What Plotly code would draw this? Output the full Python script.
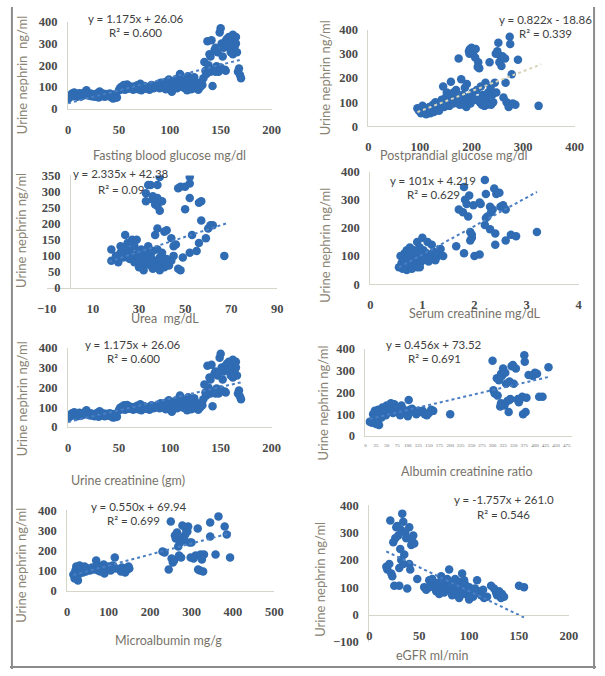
import plotly.graph_objects as go

W, H = 605, 676

# ---------------- data ----------------
# Panel 1 & 5: Fasting blood glucose / Urine creatinine vs urine nephrin
fbg_x = [0, 0, 1, 2, 3, 4, 5, 6, 7, 8, 9, 10, 11, 12, 13, 14, 15, 16, 17, 18, 19, 20, 21, 22, 23, 24, 25, 26, 27, 28,
         29, 30, 31, 32, 33, 34, 35, 36, 37, 38, 39, 40, 41, 42, 43, 44, 45, 46, 47, 48,
         50, 51, 52, 53, 54, 55, 56, 57, 58, 59, 60, 62, 63, 64, 65, 66, 68, 69, 70, 71, 72, 74, 75, 76, 78, 80,
         82, 84, 85, 86, 88, 90, 91, 92, 94, 95, 96, 97, 98, 99, 100, 101, 102, 103, 104, 105, 106, 107, 108,
         109, 110, 111, 112, 113, 114, 115, 116, 117, 118, 119, 120, 121, 122, 123, 124, 125, 126, 127, 128, 129,
         130, 131, 132, 133,
         134, 135, 136, 137, 138, 139, 140, 141, 142, 143, 144, 145, 146, 147, 148, 149, 150, 151, 152, 153, 154,
         155, 156, 157, 158, 159, 160, 161, 162, 163, 164, 165, 166, 167, 168, 169, 170, 155, 160, 150, 145, 140,
         165, 162, 158]
fbg_y = [50, 45, 60, 55, 65, 70, 58, 75, 62, 68, 55, 60, 72, 65, 58, 70, 62, 75, 68, 85, 72, 65, 60, 70, 58, 66, 62,
         55, 68, 60, 72, 52, 80, 65, 58, 70, 62, 55, 68, 60, 64, 58, 70, 55, 62, 48, 66, 50, 60, 52,
         85, 95, 100, 90, 105, 110, 88, 98, 112, 92, 105, 95, 100, 88, 102, 95, 108, 90, 100, 115, 85, 98, 105,
         92, 100, 88, 110, 95, 105, 100, 112, 95, 120, 105, 100, 118, 90, 125, 105, 135, 95, 110, 78, 122, 100,
         130, 115, 95, 140, 105, 160, 120, 100, 130, 110, 95, 125, 85, 150, 105, 115, 90, 130, 100, 145, 95, 110,
         120, 88, 105, 100, 120, 110, 140,
         215, 175, 160, 310, 200, 250, 170, 315, 105, 180, 270, 280, 195, 260, 170, 350, 370, 300, 240, 280, 180,
         310, 320, 290, 330, 300, 270, 310, 340, 320, 290, 330, 260, 170, 185, 155, 140, 175, 260, 190, 170, 240,
         300, 250, 290]

# Panel 2: Postprandial glucose
ppg_x = [95, 98, 100, 102, 105, 107, 110, 112, 115, 118, 120, 122, 125, 127, 130, 132, 135, 137, 140, 142, 145,
         147, 150, 152, 155, 157, 160, 162, 165, 167, 170, 172, 175, 177, 180, 182, 185, 187, 190, 191, 193, 195,
         196, 197, 198, 200, 202, 203, 205, 207, 208, 210, 212, 213, 215, 216, 218, 220, 222, 225, 227, 228, 230,
         232, 235, 237, 238, 240, 242, 245, 247, 248, 250, 252, 254, 256, 258, 260, 262, 265, 266, 268, 270, 272,
         274, 275, 278, 280, 285, 290, 330, 230, 210, 190, 150, 165, 175, 200, 220, 185]
ppg_y = [75, 65, 70, 55, 85, 60, 75, 50, 65, 80, 55, 70, 90, 60, 100, 75, 85, 65, 95, 110, 165, 80, 120, 140, 100,
         85, 185, 130, 95, 110, 150, 120, 280, 90, 195, 130, 105, 160, 80, 175, 120, 310, 300, 320, 95, 325, 140,
         305, 110, 285, 320, 150, 245, 265, 240, 100, 165, 90, 130, 85, 180, 120, 100, 140, 265, 160, 90, 130, 100,
         180, 300, 140, 310, 345, 265, 290, 250, 290, 120, 280, 180, 100, 95, 80, 370, 340, 215, 95, 90, 275, 85,
         90, 110, 100, 90, 140, 110, 130, 115, 90]

# Panel 3: Urea
urea_x = [18, 18, 20, 21, 22, 22, 23, 24, 24, 25, 25, 26, 26, 27, 27, 28, 28, 29, 29, 30, 30, 31, 31, 32, 32, 33,
          33, 34, 34, 35, 35, 36, 36, 37, 37, 38, 38, 38, 39, 39, 40, 40, 41, 41, 42, 42, 43, 44, 44, 45, 45, 46,
          47, 48, 49, 50, 52, 53, 55, 56, 57, 57, 59, 60, 61, 62, 67, 33, 33, 34, 35, 36, 36, 37, 37, 38, 38, 38,
          39, 39, 40, 47, 48, 50, 52, 52, 52, 56, 40, 35, 30, 25]
urea_y = [120, 85, 100, 80, 110, 130, 95, 165, 125, 105, 140, 90, 115, 150, 100, 130, 80, 105, 150, 95, 65, 120,
          85, 100, 55, 110, 75, 90, 130, 70, 100, 60, 115, 85, 165, 70, 120, 185, 95, 55, 80, 110, 65, 175, 90,
          180, 70, 85, 155, 100, 130, 135, 60, 55, 95, 245, 110, 165, 115, 140, 210, 270, 155, 185, 195, 195, 100,
          295, 270, 320, 320, 285, 275, 265, 260, 255, 280, 320, 240, 345, 270, 310, 315, 315, 325, 345, 280, 265,
          90, 95, 110, 95]

# Panel 4: Serum creatinine
scr_x = [0.55, 0.58, 0.6, 0.62, 0.65, 0.66, 0.68, 0.7, 0.7, 0.72, 0.74, 0.75, 0.76, 0.78, 0.8, 0.8, 0.82, 0.84,
         0.85, 0.86, 0.88, 0.9, 0.9, 0.92, 0.94, 0.95, 0.96, 0.98, 1.0, 1.0, 1.02, 1.05, 1.08, 1.1, 1.12, 1.15,
         1.18, 1.2, 1.22, 1.25, 1.3, 1.35, 1.4, 0.65, 0.75, 0.85, 0.95, 0.7, 0.8, 1.65, 1.7, 1.78, 1.8, 1.8, 1.82,
         1.85, 1.88, 1.9, 1.92, 1.92, 1.95, 1.98, 2.0, 2.1, 2.1, 2.12, 2.2, 2.2, 2.22, 2.22, 2.3, 2.3, 2.32, 2.35,
         2.38, 2.4, 2.4, 2.42, 2.48, 2.5, 2.55, 2.6, 2.6, 2.7, 2.8, 3.2, 1.95, 2.25]
scr_y = [60, 100, 75, 55, 90, 110, 70, 120, 50, 85, 100, 65, 130, 80, 110, 55, 95, 120, 70, 100, 85, 150, 60, 110,
         90, 130, 75, 105, 165, 85, 120, 95, 110, 150, 80, 100, 140, 90, 115, 85, 100, 125, 100, 100, 110, 115, 60,
         95, 75, 135, 265, 255, 345, 110, 300, 285, 240, 315, 185, 155, 165, 280, 100, 105, 290, 285, 370, 210, 320,
         235, 195, 275, 255, 265, 340, 180, 140, 320, 325, 275, 280, 265, 155, 175, 170, 185, 175, 240]

# Panel 6: Albumin creatinine ratio
acr_x = [10, 15, 18, 20, 22, 25, 26, 28, 30, 30, 32, 35, 38, 40, 42, 45, 48, 50, 55, 58, 60, 65, 68, 70, 75, 80,
         82, 85, 90, 95, 100, 102, 105, 110, 115, 120, 125, 130, 135, 140, 145, 150, 155, 160, 200, 300, 302, 305,
         310, 312, 315, 318, 320, 322, 325, 328, 330, 332, 335, 338, 340, 342, 345, 348, 350, 355, 360, 362, 365,
         370, 372, 375, 376, 378, 380, 385, 395, 400, 405, 410, 418, 432, 340, 320, 360]
acr_y = [65, 60, 100, 80, 115, 55, 95, 110, 70, 120, 50, 100, 85, 130, 120, 110, 95, 140, 115, 130, 150, 105, 145,
         125, 130, 105, 95, 140, 120, 115, 90, 165, 120, 125, 110, 100, 115, 110, 115, 100, 95, 105, 120, 115, 100,
         345, 210, 195, 265, 185, 255, 135, 285, 275, 310, 140, 290, 240, 160, 110, 250, 170, 320, 325, 240, 310,
         165, 155, 170, 180, 100, 370, 340, 110, 175, 280, 275, 290, 285, 180, 180, 315, 165, 150, 170]

# Panel 7: Microalbumin
mau_x = [15, 18, 20, 22, 24, 25, 26, 28, 30, 30, 32, 35, 38, 40, 42, 45, 50, 55, 60, 65, 70, 72, 75, 78, 80, 85,
         88, 90, 95, 100, 105, 110, 115, 118, 130, 132, 135, 138, 140, 145, 148, 150, 230, 235, 245, 250, 252, 255,
         258, 260, 262, 265, 268, 270, 272, 275, 278, 280, 282, 285, 288, 290, 292, 295, 298, 300, 305, 310, 315,
         316, 320, 322, 325, 328, 330, 345, 345, 358, 365, 380, 385, 393, 285, 275]
mau_y = [80, 60, 100, 120, 70, 95, 50, 110, 85, 125, 100, 115, 90, 105, 120, 95, 110, 100, 115, 105, 150, 125, 100,
         120, 95, 110, 130, 85, 115, 120, 100, 125, 165, 110, 95, 115, 100, 110, 90, 105, 120, 110, 195, 190, 105,
         345, 160, 140, 150, 275, 260, 290, 220, 175, 240, 255, 325, 265, 250, 280, 300, 295, 320, 240, 165, 240,
         160, 175, 310, 105, 100, 180, 155, 95, 180, 340, 270, 180, 370, 320, 280, 165, 315, 165]

# Panel 8: eGFR
egfr_x = [17, 18, 20, 21, 22, 23, 24, 25, 26, 27, 28, 29, 30, 30, 31, 32, 32, 33, 34, 34, 35, 36, 37, 38, 40, 40,
          41, 42, 43, 44, 45, 48, 55, 57, 60, 62, 63, 65, 67, 68, 70, 72, 73, 75, 76, 78, 80, 80, 82, 83, 85, 86,
          88, 90, 90, 92, 93, 95, 96, 98, 100, 100, 102, 104, 106, 108, 110, 112, 114, 115, 118, 122, 125, 127,
          128, 130, 132, 133, 135, 150, 155, 60, 70, 78, 85, 95, 88]
egfr_y = [175, 165, 185, 345, 150, 140, 265, 105, 280, 320, 325, 290, 170, 105, 240, 310, 200, 370, 340, 185, 220,
          300, 280, 95, 320, 185, 165, 255, 270, 290, 260, 130, 100, 90, 125, 110, 130, 100, 85, 115, 95, 140, 110,
          80, 125, 100, 165, 90, 115, 70, 105, 130, 85, 120, 60, 95, 150, 75, 110, 90, 100, 55, 80, 65, 95, 125,
          85, 70, 90, 60, 65, 105, 95, 80, 70, 85, 60, 75, 65, 105, 100, 100, 75, 130, 80, 125, 110]

# trendlines (slope, intercept, x-extent) and labels
panels = [
    dict(x=fbg_x, y=fbg_y, m=1.175, b=26.06, tx=[0, 170], eq="y = 1.175x + 26.06", r2="R² = 0.600",
         xtitle="Fasting blood glucose mg/dl", ytitle="Urine nephrin  ng/ml"),
    dict(x=ppg_x, y=ppg_y, m=0.822, b=-18.86, tx=[95, 335], eq="y = 0.822x - 18.86", r2="R² = 0.339",
         xtitle="Postprandial glucose mg/dl", ytitle="Urine nephrin ng/ml"),
    dict(x=urea_x, y=urea_y, m=2.335, b=42.38, tx=[17, 68], eq="y = 2.335x + 42.38", r2="R² = 0.09",
         xtitle="Urea  mg/dL", ytitle="Urine nephrin ng/ml"),
    dict(x=scr_x, y=scr_y, m=101, b=4.219, tx=[0.55, 3.2], eq="y = 101x + 4.219", r2="R² = 0.629",
         xtitle="Serum creatinine mg/dL", ytitle="Urine nephrin ng/ml"),
    dict(x=fbg_x, y=fbg_y, m=1.175, b=26.06, tx=[0, 170], eq="y = 1.175x + 26.06", r2="R² = 0.600",
         xtitle="Urine creatinine (gm)", ytitle="Urine nephrin ng/ml"),
    dict(x=acr_x, y=acr_y, m=0.456, b=73.52, tx=[10, 432], eq="y = 0.456x + 73.52", r2="R² = 0.691",
         xtitle="Albumin creatinine ratio", ytitle="Urine nephrin ng/ml"),
    dict(x=mau_x, y=mau_y, m=0.550, b=69.94, tx=[15, 395], eq="y = 0.550x + 69.94", r2="R² = 0.699",
         xtitle="Microalbumin mg/g", ytitle="Urine nephrin ng/ml"),
    dict(x=egfr_x, y=egfr_y, m=-1.757, b=261.0, tx=[17, 155], eq="y = -1.757x + 261.0", r2="R² = 0.546",
         xtitle="eGFR ml/min", ytitle="Urine nephrin ng/ml"),
]

# ---------------- layout geometry (pixels) ----------------
geom = [
    dict(xr=[0, 200], xpx=[60, 270], yr=[0, 400], ypx=[104, 15], xdt=50, ydt=100,
         eqpos=(130, 12), r2pos=(130, 26), xt=(165, 152), yt=(12, 70)),
    dict(xr=[0, 400], xpx=[370, 583], yr=[0, 400], ypx=[122, 23], xdt=100, ydt=100,
         eqpos=(553, 13), r2pos=(553, 27), xt=(458, 152), yt=(325, 72)),
    dict(xr=[-10, 90], xpx=[38, 276], yr=[0, 350], ypx=[287, 172], xdt=20, ydt=50,
         eqpos=(115, 170), r2pos=(115, 186), xt=(160, 318), yt=(12, 228), yfree=62),
    dict(xr=[0, 4], xpx=[372, 587], yr=[0, 400], ypx=[283, 168], xdt=1, ydt=100,
         eqpos=(437, 177), r2pos=(437, 191), xt=(480, 313), yt=(325, 243)),
    dict(xr=[0, 200], xpx=[60, 270], yr=[0, 400], ypx=[429, 348], xdt=50, ydt=100,
         eqpos=(127, 345), r2pos=(127, 359), xt=(122, 484), yt=(12, 400)),
    dict(xr=[0, 480], xpx=[367, 580], yr=[0, 400], ypx=[438, 349], xdt=25, ydt=100,
         eqpos=(438, 345), r2pos=(438, 359), xt=(472, 474), yt=(323, 404), small=True),
    dict(xr=[0, 500], xpx=[59, 273], yr=[0, 400], ypx=[596, 514], xdt=100, ydt=100,
         eqpos=(133, 510), r2pos=(127, 524), xt=(164, 647), yt=(12, 570)),
    dict(xr=[0, 200], xpx=[371, 577], yr=[-100, 400], ypx=[648, 509], xdt=50, ydt=100,
         eqpos=(510, 503), r2pos=(510, 518), xt=(436, 662), yt=(320, 584), xfree=621),
]

def fx(px):
    return px / W

def fy(py):
    return 1 - py / H

MARKER = "#2f6cb3"
TREND = "#4a7ec2"
AXLINE = "#d6d6c8"
TICKFONT = dict(family="Liberation Serif", size=12.5, color="#4a4a4a", weight="bold")

fig = go.Figure()
annotations = []

for i, (p, g) in enumerate(zip(panels, geom), start=1):
    xa = "x" if i == 1 else f"x{i}"
    ya = "y" if i == 1 else f"y{i}"
    fig.add_trace(go.Scatter(x=p["x"], y=p["y"], mode="markers", xaxis=xa, yaxis=ya,
                             marker=dict(size=8.5, color=MARKER, line=dict(width=0)),
                             showlegend=False, hoverinfo="x+y"))
    ty = [p["m"] * v + p["b"] for v in p["tx"]]
    fig.add_trace(go.Scatter(x=p["tx"], y=ty, mode="lines", xaxis=xa, yaxis=ya,
                             line=dict(color="#d9d4b8" if i == 2 else TREND, width=2, dash="dot"),
                             showlegend=False, hoverinfo="skip"))

    xkey = "xaxis" if i == 1 else f"xaxis{i}"
    ykey = "yaxis" if i == 1 else f"yaxis{i}"
    small = g.get("small", False)
    xax = dict(domain=[fx(g["xpx"][0]), fx(g["xpx"][1])], range=g["xr"], showgrid=False,
               zeroline=False, showline=True, linecolor=AXLINE, linewidth=1,
               tick0=g["xr"][0], dtick=g["xdt"], ticks="",
               tickfont=dict(family="Liberation Serif", size=5, color="#707070") if small else TICKFONT,
               ticklabelstandoff=4 if small else 9, fixedrange=True)
    yax = dict(domain=[fy(g["ypx"][0]), fy(g["ypx"][1])], range=g["yr"], showgrid=False,
               zeroline=False, showline=True, linecolor=AXLINE, linewidth=1,
               tick0=g["yr"][0], dtick=g["ydt"], ticks="", tickfont=TICKFONT,
               ticklabelstandoff=7, fixedrange=True)
    if small:
        xax["range"] = [0, 487]
        xax["tickvals"] = list(range(0, 476, 25))
    if "yfree" in g:
        yax.update(anchor="free", position=fx(g["yfree"]))
        xax["tickvals"] = [-10, 10, 30, 50, 70, 90]
    else:
        yax.update(anchor=xa)
    if "xfree" in g:
        xax.update(anchor="free", position=fy(g["xfree"]))
    else:
        xax.update(anchor=ya)
    fig.update_layout(**{xkey: xax, ykey: yax})

    for txt, pos in ((p["eq"], g["eqpos"]), (p["r2"], g["r2pos"])):
        annotations.append(dict(x=fx(pos[0]), y=fy(pos[1]), xref="paper", yref="paper",
                                text=txt, showarrow=False, xanchor="center", yanchor="middle",
                                font=dict(family="Lato", size=11.5, color="#404040")))
    annotations.append(dict(x=fx(g["xt"][0]), y=fy(g["xt"][1]), xref="paper", yref="paper",
                            text=p["xtitle"], showarrow=False, xanchor="center", yanchor="middle",
                            font=dict(family="Lato", size=12.5, color="#77736a")))
    annotations.append(dict(x=fx(g["yt"][0]), y=fy(g["yt"][1]), xref="paper", yref="paper",
                            text=p["ytitle"], showarrow=False, xanchor="center", yanchor="middle",
                            textangle=-90,
                            font=dict(family="Lato", size=13, color="#8a8474")))

shapes = [
    dict(type="line", xref="paper", yref="paper", x0=fx(2), x1=fx(2), y0=0, y1=1,
         line=dict(color="#8c8c8c", width=2)),
    dict(type="line", xref="paper", yref="paper", x0=fx(603), x1=fx(603), y0=0, y1=1,
         line=dict(color="#8c8c8c", width=2)),
    dict(type="line", xref="paper", yref="paper", x0=0, x1=1, y0=fy(674), y1=fy(674),
         line=dict(color="#8c8c8c", width=2)),
]

fig.update_layout(width=W, height=H, margin=dict(l=0, r=0, t=0, b=0),
                  paper_bgcolor="white", plot_bgcolor="white",
                  annotations=annotations, shapes=shapes, showlegend=False)

fig.write_html("out.html", config={"displayModeBar": False},
               post_script="document.body.style.margin='0px';document.body.style.overflow='hidden';")
